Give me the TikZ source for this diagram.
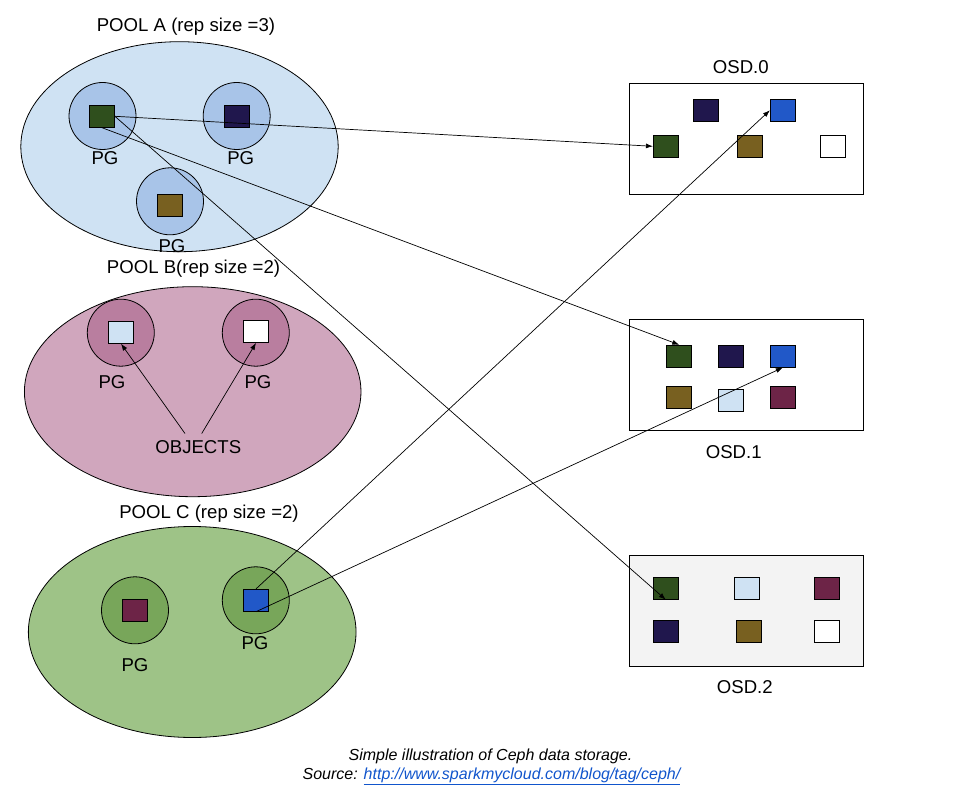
\documentclass[tikz,border=0pt]{standalone}
\usepackage{fontspec}
\setmainfont{Liberation Sans}
\usetikzlibrary{shapes.geometric,arrows.meta}
\definecolor{poolA}{HTML}{CFE2F3}
\definecolor{pgA}{HTML}{A8C4E8}
\definecolor{poolB}{HTML}{D0A6BD}
\definecolor{pgB}{HTML}{B97E9F}
\definecolor{poolC}{HTML}{9EC387}
\definecolor{pgC}{HTML}{78A65A}
\definecolor{cgreen}{HTML}{2F4F1D}
\definecolor{cnavy}{HTML}{20174D}
\definecolor{cbrown}{HTML}{786020}
\definecolor{cblue}{HTML}{2158C8}
\definecolor{cmaroon}{HTML}{6D2447}
\definecolor{clight}{HTML}{CFE2F3}
\definecolor{osdgray}{HTML}{F3F3F3}
\definecolor{linkblue}{HTML}{1155CC}
\begin{document}
\begin{tikzpicture}[x=1pt,y=-1pt,
  pool/.style={draw=black, line width=0.8pt, ellipse, inner sep=0pt},
  pg/.style={draw=black, line width=0.8pt, circle, inner sep=0pt, minimum size=67pt},
  obj/.style={draw=black, line width=0.8pt, inner sep=0pt, minimum width=25pt, minimum height=22pt},
  lbl/.style={font=\fontsize{18.6}{22}\selectfont, inner sep=0pt},
  captext/.style={font=\fontsize{16}{19}\selectfont, inner sep=0pt},
  osd/.style={draw=black, line width=0.8pt, inner sep=0pt, minimum width=234pt, minimum height=111pt},
  link/.style={-{Latex[length=7pt,width=5pt]}, line width=0.7pt}
]
\useasboundingbox (0,0) rectangle (966,802);

% pools
\node[pool, fill=poolA, minimum width=317.4pt, minimum height=210pt] (poolA) at (179.5,146.7) {};
\node[pool, fill=poolB, minimum width=336.6pt, minimum height=210pt] (poolB) at (192.7,391.7) {};
\node[pool, fill=poolC, minimum width=327.7pt, minimum height=211pt] (poolC) at (192.2,632) {};

\node[lbl] (tA) at (186,26.7) {POOL A (rep size =3)};
\node[lbl] (tB) at (193.5,269) {POOL B(rep size =2)};
\node[lbl] (tC) at (209,514) {POOL C (rep size =2)};

% PG circles
\node[pg, fill=pgA] (pgA1) at (102.5,116) {};
\node[pg, fill=pgA] (pgA2) at (236.7,116) {};
\node[pg, fill=pgA] (pgA3) at (170,201.3) {};
\node[pg, fill=pgB] (pgB1) at (120.8,332.7) {};
\node[pg, fill=pgB] (pgB2) at (255.8,332.7) {};
\node[pg, fill=pgC] (pgC1) at (135,610.3) {};
\node[pg, fill=pgC] (pgC2) at (255.8,600.3) {};

% objects in PGs
\node[obj, fill=cgreen] (a1) at (102,116.3) {};
\node[obj, fill=cnavy] (a2) at (237,116.3) {};
\node[obj, fill=cbrown] (a3) at (170,205.3) {};
\node[obj, fill=clight] (b1) at (121,332.3) {};
\node[obj, fill=white] (b2) at (256,331.5) {};
\node[obj, fill=cmaroon] (c1) at (135,610.3) {};
\node[obj, fill=cblue] (c2) at (256,600.3) {};

% PG labels
\node[lbl] (lA1) at (105,158) {PG};
\node[lbl] (lA2) at (240.7,158) {PG};
\node[lbl] (lA3) at (172,246) {PG};
\node[lbl] (lB1) at (112,381.7) {PG};
\node[lbl] (lB2) at (258,381.7) {PG};
\node[lbl] (lC1) at (135,665) {PG};
\node[lbl] (lC2) at (255,643.3) {PG};
\node[lbl, inner sep=7pt] (objs) at (198.3,447.3) {OBJECTS};

% OSDs
\node[osd, fill=white] (osd0) at (746.3,138.8) {};
\node[osd, fill=white] (osd1) at (746.3,374.7) {};
\node[osd, fill=osdgray] (osd2) at (746.3,610.7) {};
\node[lbl] (losd0) at (740.8,67) {OSD.0};
\node[lbl] (losd1) at (733.7,451.7) {OSD.1};
\node[lbl] (losd2) at (744.8,686.7) {OSD.2};

% OSD.0 objects
\node[obj, fill=cnavy] (o0n) at (705.8,110.3) {};
\node[obj, fill=cblue] (o0b) at (782.8,110.3) {};
\node[obj, fill=cgreen] (o0g) at (665.8,146.3) {};
\node[obj, fill=cbrown] (o0br) at (749.8,146.3) {};
\node[obj, fill=white] (o0w) at (832.8,146.3) {};

% OSD.1 objects
\node[obj, fill=cgreen] (o1g) at (679.3,356.2) {};
\node[obj, fill=cnavy] (o1n) at (730.8,356.2) {};
\node[obj, fill=cblue] (o1b) at (782.8,356.2) {};
\node[obj, fill=cbrown] (o1br) at (679.3,397.3) {};
\node[obj, fill=clight] (o1l) at (730.8,400) {};
\node[obj, fill=cmaroon] (o1m) at (782.8,397.3) {};

% OSD.2 objects
\node[obj, fill=cgreen] (o2g) at (665.8,588.3) {};
\node[obj, fill=clight] (o2l) at (746.8,588.3) {};
\node[obj, fill=cmaroon] (o2m) at (826.8,588.3) {};
\node[obj, fill=cnavy] (o2n) at (665.8,631.8) {};
\node[obj, fill=cbrown] (o2br) at (748.8,631.8) {};
\node[obj, fill=white] (o2w) at (826.8,631.8) {};

% connectors
\draw[link] (a1.east) -- (o0g.west);
\draw[link] (a1.south) -- (o1g.north);
\draw[link] (a1.east) -- (o2g.south);
\draw[link] (c2.north) -- (o0b.west);
\draw[link] (c2.south) -- (o1b.south);
\draw[link] ([xshift=-13.3pt]objs.north) -- (b1.south);
\draw[link] ([xshift=3.4pt]objs.north) -- (b2.south);

% caption
\node[captext, anchor=base] (cap1) at (490.5,760) {\itshape Simple illustration of Ceph data storage.};
\node[captext, anchor=base] (cap2) at (491.5,779) {\itshape Source: \textcolor{linkblue}{\underline{http://www.sparkmycloud.com/blog/tag/ceph/}}};
\end{tikzpicture}
\end{document}
